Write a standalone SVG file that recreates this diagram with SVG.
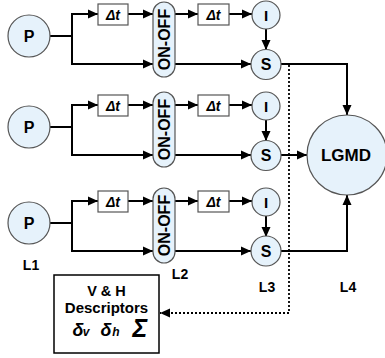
<svg xmlns="http://www.w3.org/2000/svg" width="385" height="358" viewBox="0 0 385 358">
<defs>
<marker id="ah" markerUnits="userSpaceOnUse" markerWidth="10" markerHeight="10" viewBox="0 0 10 10" refX="10" refY="5" orient="auto">
<path d="M0,0.5 L10,5 L0,9.5 Z" fill="#000"/>
</marker>
</defs>
<style>
.nd{fill:#e6f2fb;stroke:#555;stroke-width:1.2}
.bx{fill:#fff;stroke:#555;stroke-width:1.2}
.ln{fill:none;stroke:#000;stroke-width:2}
.la{fill:none;stroke:#000;stroke-width:2;marker-end:url(#ah)}
.dt{fill:none;stroke:#000;stroke-width:1.8;stroke-dasharray:2 2;marker-end:url(#ah)}
text{font-family:"Liberation Sans",Arial,sans-serif;font-weight:bold;fill:#000;text-anchor:middle}
.c{font-size:16px}
.d{font-size:14px;font-style:italic}
.o{font-size:15px}
.l{font-size:14px}
</style>
<rect width="385" height="358" fill="#fff"/>
<g id="connectors">
<!-- row 1 -->
<path class="ln" d="M50,36 H72 M72,14 V64"/>
<path class="la" d="M71,14 H98"/>
<path class="la" d="M128,14 H153"/>
<path class="la" d="M71,64 H153"/>
<path class="la" d="M175,14 H198"/>
<path class="la" d="M229,14 H252"/>
<path class="la" d="M266,29 V50"/>
<path class="la" d="M175,64 H251"/>
<path class="la" d="M281,64 H347 V115"/>
<!-- row 2 -->
<path class="ln" d="M50,127 H72 M72,105 V155"/>
<path class="la" d="M71,105 H98"/>
<path class="la" d="M128,105 H153"/>
<path class="la" d="M71,155 H153"/>
<path class="la" d="M175,105 H198"/>
<path class="la" d="M229,105 H252"/>
<path class="la" d="M266,120 V141"/>
<path class="la" d="M175,155 H251"/>
<path class="la" d="M281,155 H307"/>
<!-- row 3 -->
<path class="ln" d="M50,223 H72 M72,201 V251"/>
<path class="la" d="M71,201 H98"/>
<path class="la" d="M128,201 H153"/>
<path class="la" d="M71,251 H153"/>
<path class="la" d="M175,201 H198"/>
<path class="la" d="M229,201 H252"/>
<path class="la" d="M266,216 V237"/>
<path class="la" d="M175,251 H251"/>
<path class="la" d="M281,251 H347 V195"/>
<!-- dotted -->
<path class="dt" d="M289,65 V313 H160"/>
</g>
<g id="P1"><circle class="nd" cx="29" cy="36" r="21"/><text class="c" x="29" y="42">P</text></g>
<g id="P2"><circle class="nd" cx="29" cy="127" r="21"/><text class="c" x="29" y="133">P</text></g>
<g id="P3"><circle class="nd" cx="29" cy="223" r="21"/><text class="c" x="29" y="229">P</text></g>
<g id="D1a"><rect class="bx" x="98" y="4" width="30" height="21"/><text class="d" x="113" y="19.5">Δt</text></g>
<g id="D2a"><rect class="bx" x="98" y="95" width="30" height="21"/><text class="d" x="113" y="110.5">Δt</text></g>
<g id="D3a"><rect class="bx" x="98" y="191" width="30" height="21"/><text class="d" x="113" y="206.5">Δt</text></g>
<g id="OO1"><rect class="nd" x="153" y="2" width="22" height="75" rx="11"/><text class="c" transform="translate(169.5,39.5) rotate(-90)">ON-OFF</text></g>
<g id="OO2"><rect class="nd" x="153" y="92" width="22" height="75" rx="11"/><text class="c" transform="translate(169.5,129.5) rotate(-90)">ON-OFF</text></g>
<g id="OO3"><rect class="nd" x="153" y="188" width="22" height="75" rx="11"/><text class="c" transform="translate(169.5,225.5) rotate(-90)">ON-OFF</text></g>
<g id="D1b"><rect class="bx" x="198" y="4" width="31" height="21"/><text class="d" x="213.5" y="19.5">Δt</text></g>
<g id="D2b"><rect class="bx" x="198" y="95" width="31" height="21"/><text class="d" x="213.5" y="110.5">Δt</text></g>
<g id="D3b"><rect class="bx" x="198" y="191" width="31" height="21"/><text class="d" x="213.5" y="206.5">Δt</text></g>
<g id="I1"><circle class="nd" cx="266" cy="15" r="14"/><text class="o" x="266" y="20.5">I</text></g>
<g id="I2"><circle class="nd" cx="266" cy="106" r="14"/><text class="o" x="266" y="111.5">I</text></g>
<g id="I3"><circle class="nd" cx="266" cy="202" r="14"/><text class="o" x="266" y="207.5">I</text></g>
<g id="S1"><circle class="nd" cx="266" cy="64.5" r="15"/><text class="c" x="266" y="70">S</text></g>
<g id="S2"><circle class="nd" cx="266" cy="155.5" r="15"/><text class="c" x="266" y="161">S</text></g>
<g id="S3"><circle class="nd" cx="266" cy="251" r="15"/><text class="c" x="266" y="256.5">S</text></g>
<g id="LGMD"><circle class="nd" cx="347" cy="155" r="40"/><text x="346" y="161" font-size="17">LGMD</text></g>
<g id="desc">
<rect x="54" y="275" width="105" height="78" fill="#fff" stroke="#000" stroke-width="1.5"/>
<text x="106.5" y="296" font-size="14.5">V &amp; H</text>
<text x="106.5" y="313" font-size="15">Descriptors</text>
<text x="78" y="336" font-size="18" font-style="italic">δ</text>
<text x="86" y="336" font-size="12" font-style="italic">v</text>
<text x="106" y="336" font-size="18" font-style="italic">δ</text>
<text x="116" y="336" font-size="12" font-style="italic">h</text>
<text x="140" y="337" font-size="25" font-style="italic">Σ</text>
</g>
<g id="labels">
<text class="l" x="31" y="270">L1</text>
<text class="l" x="180" y="279">L2</text>
<text class="l" x="267" y="292">L3</text>
<text class="l" x="348" y="292">L4</text>
</g>
</svg>
